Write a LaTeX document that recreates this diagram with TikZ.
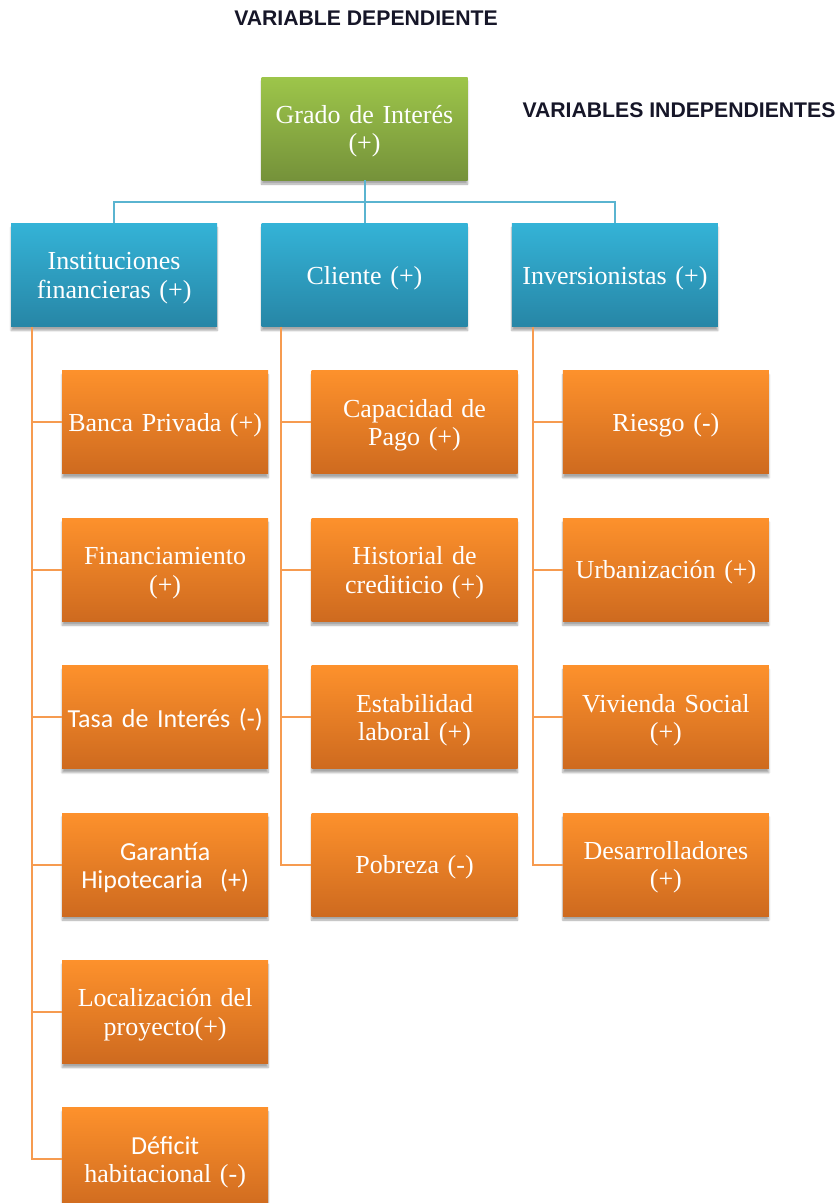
\documentclass[tikz,border=0pt]{standalone}
\usepackage{fontspec}
\setmainfont{Liberation Serif}
\newfontfamily\calibrifont{Carlito}
\newfontfamily\arialfont{Liberation Sans}
\usetikzlibrary{positioning,shadows.blur}
\definecolor{green-top}{RGB}{157,197,74}
\definecolor{green-bottom}{RGB}{117,146,58}
\definecolor{blue-top}{RGB}{52,179,215}
\definecolor{blue-bottom}{RGB}{39,134,166}
\definecolor{orange-top}{RGB}{253,145,44}
\definecolor{orange-bottom}{RGB}{206,106,31}
\definecolor{blue-link}{RGB}{90,180,208}
\definecolor{orange-link}{RGB}{246,155,80}
\definecolor{title-ink}{RGB}{22,22,40}
\tikzset{
    var-box/.style = {rectangle, minimum width=206pt, minimum height=103pt, text width=200pt, inner sep=3pt, align=center, text=white, font=\fontsize{26}{28.5}\selectfont, execute at begin node={\rule{0pt}{24pt}}, blur shadow={shadow xshift=0pt, shadow yshift=-4pt, shadow blur steps=6, shadow opacity=35}},
    green-box/.style = {var-box, top color=green-top, bottom color=green-bottom},
    blue-box/.style = {var-box, top color=blue-top, bottom color=blue-bottom},
    orange-box/.style = {var-box, top color=orange-top, bottom color=orange-bottom},
    blue-link/.style = {draw=blue-link, line width=2pt},
    orange-link/.style = {draw=orange-link, line width=2pt},
    title-text/.style = {text=title-ink, font=\arialfont\bfseries\fontsize{21.2}{24}\selectfont},
}
\begin{document}
\begin{tikzpicture}[x=1pt, y=1pt]
\useasboundingbox (0,0) rectangle (839,-1203);
\node[title-text] (dep) at (366,-18) {VARIABLE DEPENDIENTE};
\node[title-text] (indep) at (679,-110) {VARIABLES INDEPENDIENTES};

\node[green-box] (grado) at (364.5,-128.5) {Grado de Interés\\(+)};
\node[blue-box, below=43pt of grado] (cliente) {Cliente (+)};
\node[blue-box, left=44pt of cliente] (inst) {Instituciones\\financieras (+)};
\node[blue-box, right=44pt of cliente] (inver) {Inversionistas (+)};

\node[orange-box, below=44pt of inst, xshift=51pt] (banca) {Banca Privada (+)};
\node[orange-box, below=44pt of banca] (finan) {Financiamiento\\(+)};
\node[orange-box, below=44pt of finan] (tasa) {\calibrifont Tasa de Interés (-)};
\node[orange-box, below=44pt of tasa] (garantia) {\calibrifont Garantía\\Hipotecaria~~(+)};
\node[orange-box, below=44pt of garantia] (local) {Localización del\\proyecto(+)};
\node[orange-box, below=44pt of local] (deficit) {{\calibrifont Déficit}\\habitacional (-)};

\node[orange-box, below=44pt of cliente, xshift=50pt] (capacidad) {Capacidad de\\Pago (+)};
\node[orange-box, below=44pt of capacidad] (historial) {Historial de\\crediticio (+)};
\node[orange-box, below=44pt of historial] (estab) {Estabilidad\\laboral (+)};
\node[orange-box, below=44pt of estab] (pobreza) {Pobreza (-)};

\node[orange-box, below=44pt of inver, xshift=51pt] (riesgo) {Riesgo (-)};
\node[orange-box, below=44pt of riesgo] (urban) {Urbanización (+)};
\node[orange-box, below=44pt of urban] (vivienda) {Vivienda Social\\(+)};
\node[orange-box, below=44pt of vivienda] (desarr) {Desarrolladores\\(+)};

\coordinate (bar) at ([yshift=-22pt]grado.south);
\draw[blue-link] (grado.south) -- (cliente.north);
\draw[blue-link] (inst.north) |- (bar) -| (inver.north);

\coordinate (spine-a) at ([xshift=21pt]inst.south west);
\coordinate (spine-b) at ([xshift=20pt]cliente.south west);
\coordinate (spine-c) at ([xshift=21pt]inver.south west);
\draw[orange-link] (spine-a) |- (deficit.west);
\draw[orange-link] (spine-a |- banca.west) -- (banca.west);
\draw[orange-link] (spine-a |- finan.west) -- (finan.west);
\draw[orange-link] (spine-a |- tasa.west) -- (tasa.west);
\draw[orange-link] (spine-a |- garantia.west) -- (garantia.west);
\draw[orange-link] (spine-a |- local.west) -- (local.west);
\draw[orange-link] (spine-b) |- (pobreza.west);
\draw[orange-link] (spine-b |- capacidad.west) -- (capacidad.west);
\draw[orange-link] (spine-b |- historial.west) -- (historial.west);
\draw[orange-link] (spine-b |- estab.west) -- (estab.west);
\draw[orange-link] (spine-c) |- (desarr.west);
\draw[orange-link] (spine-c |- riesgo.west) -- (riesgo.west);
\draw[orange-link] (spine-c |- urban.west) -- (urban.west);
\draw[orange-link] (spine-c |- vivienda.west) -- (vivienda.west);
\end{tikzpicture}
\end{document}
